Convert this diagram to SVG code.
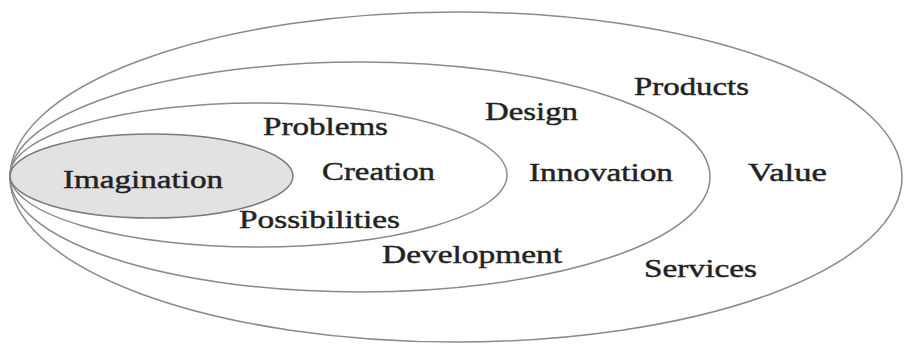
<svg xmlns="http://www.w3.org/2000/svg" width="924" height="363" viewBox="0 0 924 363">
  <style>
    .ring { fill: none; stroke: #8a8a8a; stroke-width: 1.5; }
    .core { fill: #e2e2e2; stroke: #7a7a7a; stroke-width: 1.5; }
    text { font-family: "Liberation Serif", "Times New Roman", serif; font-size: 26px; fill: #222; stroke: #222; stroke-width: 0.45; }
  </style>
  <rect width="924" height="363" fill="#ffffff"/>

  <!-- outer ring: Value -->
  <g id="value">
    <ellipse class="ring" cx="456" cy="177" rx="446" ry="165"/>
    <text x="634" y="95" textLength="115" lengthAdjust="spacingAndGlyphs">Products</text>
    <text x="748" y="181" textLength="79" lengthAdjust="spacingAndGlyphs">Value</text>
    <text x="644" y="277" textLength="113" lengthAdjust="spacingAndGlyphs">Services</text>
  </g>

  <!-- second ring: Innovation -->
  <g id="innovation">
    <ellipse class="ring" cx="360" cy="177" rx="350" ry="115"/>
    <text x="485" y="120" textLength="93" lengthAdjust="spacingAndGlyphs">Design</text>
    <text x="529" y="181" textLength="144" lengthAdjust="spacingAndGlyphs">Innovation</text>
    <text x="382" y="263" textLength="180" lengthAdjust="spacingAndGlyphs">Development</text>
  </g>

  <!-- third ring: Creation -->
  <g id="creation">
    <ellipse class="ring" cx="258.5" cy="175" rx="248.5" ry="72"/>
    <text x="263" y="135" textLength="125" lengthAdjust="spacingAndGlyphs">Problems</text>
    <text x="322" y="180" textLength="113" lengthAdjust="spacingAndGlyphs">Creation</text>
    <text x="239" y="228" textLength="161" lengthAdjust="spacingAndGlyphs">Possibilities</text>
  </g>

  <!-- core: Imagination -->
  <g id="imagination">
    <ellipse class="core" cx="151.5" cy="176" rx="141.5" ry="42"/>
    <text x="63" y="188" textLength="160" lengthAdjust="spacingAndGlyphs">Imagination</text>
  </g>
</svg>
